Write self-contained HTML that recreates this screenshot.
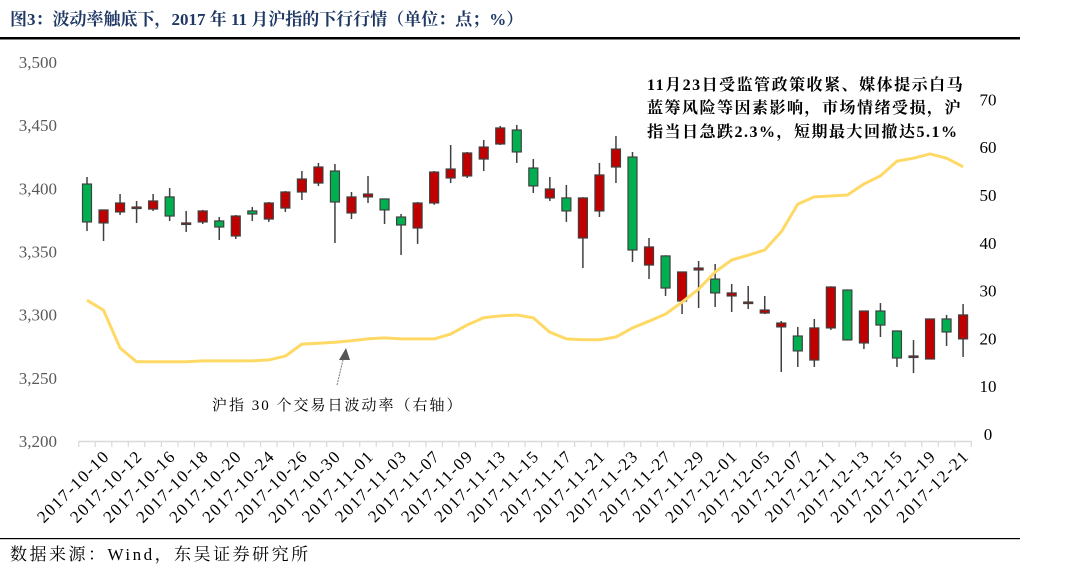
<!DOCTYPE html>
<html><head><meta charset="utf-8">
<style>
html,body{margin:0;padding:0;background:#fff;width:1065px;height:568px;overflow:hidden}
svg{display:block}
text{font-family:"Liberation Serif","Noto Serif CJK SC",serif}
</style></head>
<body>
<svg id="chart" width="1065" height="568" viewBox="0 0 1065 568">
<text x="10" y="25" font-size="17" font-weight="bold" fill="#1f3864">图3：波动率触底下，2017 年 11 月沪指的下行行情（单位：点；%）</text>
<rect x="0" y="37" width="1020" height="2.5" fill="#000"/>
<rect x="0" y="538" width="1020" height="1.2" fill="#000"/>
<text x="10" y="560" font-size="17" letter-spacing="2.5" fill="#000">数据来源：Wind，东吴证券研究所</text>
<g id="axes"></g>
<g id="candles"></g>
<g id="line"></g>
<g>
<text x="647" y="90" font-size="16" letter-spacing="1.5" font-weight="bold" fill="#000">11月23日受监管政策收紧、媒体提示白马</text>
<text x="647" y="113" font-size="16" letter-spacing="1.5" font-weight="bold" fill="#000">蓝筹风险等因素影响，市场情绪受损，沪</text>
<text x="647" y="137" font-size="16" letter-spacing="1.5" font-weight="bold" fill="#000">指当日急跌2.3%，短期最大回撤达5.1%</text>
</g>
<g>
<line x1="337" y1="385" x2="343" y2="360" stroke="#777" stroke-width="1" stroke-dasharray="2,1"/>
<polygon points="339,360 350,360 346,348" fill="#555"/>
<text x="212" y="410" font-size="15" letter-spacing="2" fill="#000">沪指 30 个交易日波动率（右轴）</text>
</g>
</svg>
<script>
const dates=["2017-10-09","2017-10-10","2017-10-11","2017-10-12","2017-10-13","2017-10-16","2017-10-17","2017-10-18","2017-10-19","2017-10-20","2017-10-23","2017-10-24","2017-10-25","2017-10-26","2017-10-27","2017-10-30","2017-10-31","2017-11-01","2017-11-02","2017-11-03","2017-11-06","2017-11-07","2017-11-08","2017-11-09","2017-11-10","2017-11-13","2017-11-14","2017-11-15","2017-11-16","2017-11-17","2017-11-20","2017-11-21","2017-11-22","2017-11-23","2017-11-24","2017-11-27","2017-11-28","2017-11-29","2017-11-30","2017-12-01","2017-12-04","2017-12-05","2017-12-06","2017-12-07","2017-12-08","2017-12-11","2017-12-12","2017-12-13","2017-12-14","2017-12-15","2017-12-18","2017-12-19","2017-12-20","2017-12-21"];
const openV=[3403.4,3372.6,3381.3,3385.2,3383.6,3393.2,3372.6,3373.4,3374.2,3362.3,3382.1,3375.7,3384.4,3397.1,3404.2,3413.7,3380.5,3393.2,3391.6,3377.3,3368.6,3388.4,3408.2,3409.8,3423.2,3435.1,3446.2,3416.1,3392.4,3392.4,3360.7,3382.1,3416.9,3424.8,3339.3,3346.5,3310.8,3335.4,3328.2,3314.8,3310.0,3301.3,3290.3,3283.1,3264.1,3289.5,3319.5,3277.6,3302.9,3287.1,3267.3,3264.9,3296.6,3280.8];
const highV=[3409.0,3382.9,3395.5,3390.0,3395.5,3400.3,3382.1,3382.9,3377.3,3378.9,3385.2,3389.2,3397.9,3413.7,3420.1,3419.3,3397.1,3409.8,3391.6,3379.7,3389.2,3413.7,3434.3,3428.8,3438.3,3449.4,3450.2,3423.2,3409.0,3402.7,3393.0,3420.1,3441.4,3428.8,3360.7,3347.0,3334.0,3342.5,3340.1,3324.3,3322.7,3314.8,3295.0,3290.3,3296.6,3322.5,3320.0,3303.3,3309.2,3287.5,3279.9,3297.0,3299.8,3308.4];
const lowV=[3366.2,3358.3,3378.9,3372.6,3382.1,3374.2,3365.4,3371.8,3359.1,3359.9,3374.2,3373.4,3381.3,3390.8,3401.9,3356.7,3375.7,3388.4,3371.8,3347.2,3356.0,3387.0,3404.2,3408.2,3413.7,3434.3,3420.1,3396.3,3390.0,3373.4,3336.9,3377.3,3404.2,3341.7,3328.2,3314.8,3300.5,3305.3,3306.1,3302.1,3304.5,3300.5,3254.6,3258.6,3258.6,3287.9,3279.5,3272.8,3282.3,3258.6,3253.8,3264.5,3275.2,3266.5];
const closeV=[3373.4,3382.9,3388.4,3385.2,3390.0,3378.1,3372.6,3382.1,3369.4,3378.1,3379.7,3388.4,3397.1,3407.4,3416.9,3389.2,3393.2,3395.5,3382.9,3371.0,3388.4,3412.9,3415.3,3428.0,3432.7,3447.8,3428.8,3401.9,3399.5,3382.1,3392.4,3410.6,3431.1,3351.2,3353.6,3321.1,3333.8,3336.9,3317.2,3317.2,3310.0,3303.7,3293.4,3271.3,3289.5,3321.9,3280.0,3302.9,3291.8,3265.7,3267.3,3296.6,3286.3,3299.8];
const volV=[28.0,25.9,18.0,15.1,15.1,15.1,15.1,15.3,15.3,15.3,15.3,15.5,16.3,18.8,19.0,19.2,19.5,19.9,20.1,19.9,19.9,19.9,20.9,22.8,24.3,24.7,24.9,24.3,21.3,19.9,19.7,19.7,20.3,22.2,23.6,25.1,27.6,30.3,33.9,36.4,37.4,38.5,42.3,48.1,49.6,49.8,50.0,52.3,54.0,57.1,57.7,58.6,57.7,55.9];
const leftTicks=[3200,3250,3300,3350,3400,3450,3500];
const rightTicks=[0,10,20,30,40,50,60,70];

const NS="http://www.w3.org/2000/svg";
const X0=87,STEP=16.53;
const xPos=i=>X0+STEP*i;
const yL=v=>441-(v-3200)*1.2633;
const yR=v=>434-v*4.78;
function mk(tag,attrs,parent){const e=document.createElementNS(NS,tag);for(const k in attrs)e.setAttribute(k,attrs[k]);parent.appendChild(e);return e;}
const axes=document.getElementById('axes');
const xa=mk('line',{x1:79,y1:441.5,x2:972,y2:441.5,stroke:'#d9d9d9','stroke-width':1.5},axes);


for(let k=0;k<=dates.length;k++){const tx=X0-STEP/2+STEP*k;const t=mk('line',{x1:tx,y1:441,x2:tx,y2:447,stroke:'#d9d9d9','stroke-width':1.2},axes);

}
dates.forEach((d,i)=>{if(i%2!==1)return;const x=xPos(i)+7,y=457;
const t=mk('text',{x:x,y:y,'font-size':17,'letter-spacing':1.5,'text-anchor':'end',fill:'#000',transform:`rotate(-45 ${x} ${y})`},axes);t.textContent=d;

});
leftTicks.forEach(v=>{const t=mk('text',{x:57,y:yL(v)+6,'font-size':17,'text-anchor':'end',fill:'#595959'},axes);t.textContent=v.toLocaleString('en-US');

});
rightTicks.forEach(v=>{const t=mk('text',{x:988,y:yR(v)+6,'font-size':17,'text-anchor':'middle',fill:'#000'},axes);t.textContent=v;

});
const cg=document.getElementById('candles');
dates.forEach((d,i)=>{const x=xPos(i);const o=openV[i],c=closeV[i],h=highV[i],l=lowV[i];
const g=mk('g',{},cg);


mk('line',{x1:x,y1:yL(h),x2:x,y2:yL(l),stroke:'#404040','stroke-width':1.5},g);
const top=yL(Math.max(o,c)),bot=yL(Math.min(o,c));
const fill=c<o?'#00b050':'#c00000';
mk('rect',{x:x-4.5,y:top,width:9,height:Math.max(bot-top,1.5),fill:fill,stroke:'#404040','stroke-width':1.2},g);});
const lg=document.getElementById('line');
const pts=volV.map((v,i)=>xPos(i).toFixed(1)+','+yR(v).toFixed(1)).join(' ');
const pl=mk('polyline',{points:pts,fill:'none',stroke:'#ffd966','stroke-width':3,'stroke-linejoin':'round'},lg);


</script>
</body></html>
